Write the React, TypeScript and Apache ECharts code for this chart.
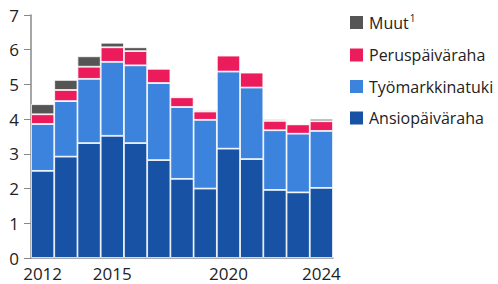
import React, { useEffect, useRef } from "react";
import * as echarts from "echarts";

const years = ["2012","2013","2014","2015","2016","2017","2018","2019","2020","2021","2022","2023","2024"];
const ansio = [2.51, 2.92, 3.31, 3.52, 3.31, 2.82, 2.28, 2.00, 3.15, 2.85, 1.96, 1.89, 2.02];
const tyomarkkina = [1.35, 1.60, 1.85, 2.13, 2.24, 2.22, 2.07, 1.98, 2.22, 2.06, 1.72, 1.69, 1.64];
const perus = [0.28, 0.32, 0.35, 0.42, 0.41, 0.41, 0.28, 0.24, 0.46, 0.43, 0.27, 0.27, 0.28];
const muut = [0.29, 0.29, 0.30, 0.13, 0.11, 0.02, 0.03, 0.04, 0.01, 0.01, 0.05, 0.02, 0.07];
const shownYears = ["2012", "2015", "2020", "2024"];

const FONT = "Open Sans";

export default function App() {
  const ref = useRef<HTMLDivElement>(null);
  useEffect(() => {
    const chart = echarts.init(ref.current!, null, { renderer: "svg" });
    const mk = (name: string, data: number[], color: string) => ({
      name,
      type: "bar",
      stack: "a",
      data,
      barWidth: "100%",
      barCategoryGap: "0%",
      itemStyle: { color, borderColor: "#ffffff", borderWidth: 0.8 },
    });
    chart.setOption({
      animation: false,
      textStyle: { fontFamily: FONT },
      grid: { left: 31, right: 165, top: 15, bottom: 26 },
      legend: {
        orient: "vertical",
        left: 343,
        top: 8,
        itemWidth: 15,
        itemHeight: 15,
        itemGap: 14.5,
        icon: "rect",
        data: ["Muut", "Peruspäiväraha", "Työmarkkinatuki", "Ansiopäiväraha"],
        formatter: (n: string) => (n === "Muut" ? "{a|Muut}{s|1}" : "{a|" + n + "}"),
        textStyle: {
          fontFamily: FONT,
          color: "#222",
          rich: {
            a: { fontSize: 16, lineHeight: 17, fontFamily: FONT, color: "#222" },
            s: { fontSize: 10, lineHeight: 17, fontFamily: FONT, color: "#222", padding: [0, 0, 9, 1] },
          },
        },
      },
      xAxis: {
        type: "category",
        data: years,
        axisLine: { lineStyle: { color: "#888", width: 1.5 } },
        axisTick: {
          alignWithLabel: true,
          length: 5,
          interval: (i: number, v: string) => shownYears.includes(v),
          lineStyle: { color: "#888" },
        },
        axisLabel: {
          interval: (i: number, v: string) => shownYears.includes(v),
          fontSize: 17,
          lineHeight: 17,
          color: "#222",
          margin: 7,
          fontFamily: FONT,
        },
      },
      yAxis: {
        type: "value",
        min: 0,
        max: 7,
        interval: 1,
        splitLine: { show: false },
        axisLine: { show: true, lineStyle: { color: "#888", width: 1.5 } },
        axisTick: { show: true, length: 7, lineStyle: { color: "#888" } },
        axisLabel: { fontSize: 17, color: "#222", margin: 12, fontFamily: FONT },
      },
      series: [
        mk("Ansiopäiväraha", ansio, "#1852a5"),
        mk("Työmarkkinatuki", tyomarkkina, "#3b83dd"),
        mk("Peruspäiväraha", perus, "#ec1c5c"),
        mk("Muut", muut, "#555555"),
      ],
    });
    return () => chart.dispose();
  }, []);
  return <div ref={ref} style={{ width: 498, height: 284, position: "absolute", left: 0, top: 0 }} />;
}
